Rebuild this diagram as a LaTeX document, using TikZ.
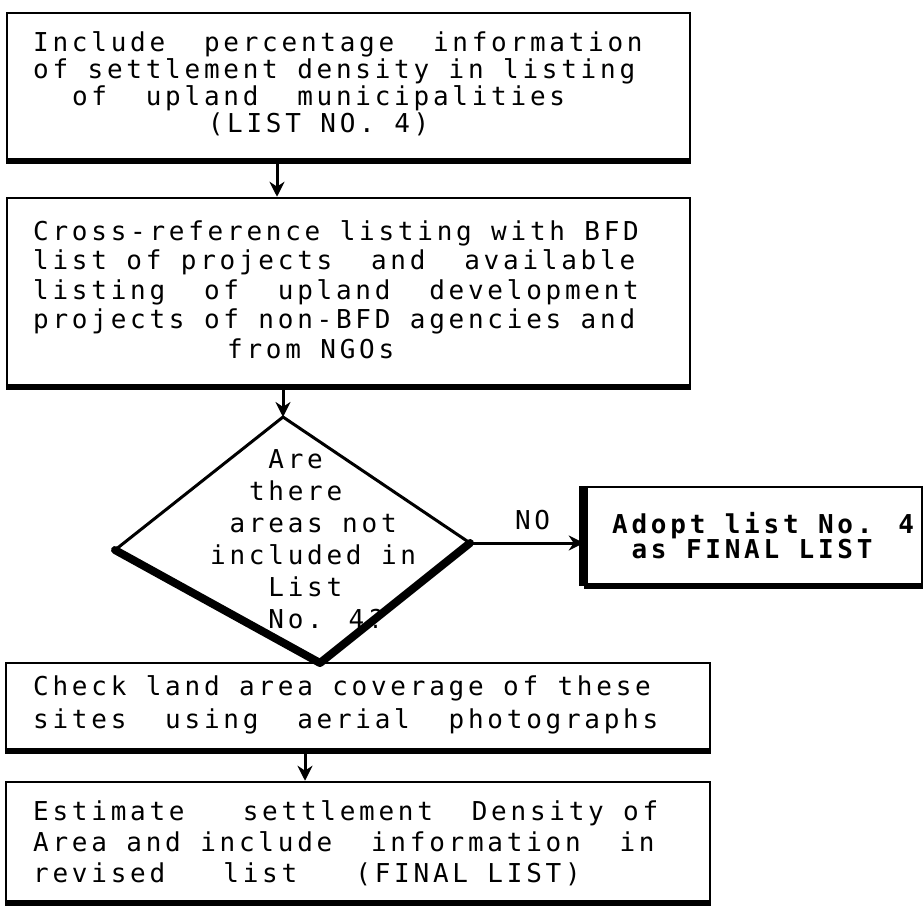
\documentclass[tikz,border=0pt]{standalone}
\usepackage{fontspec}
\usetikzlibrary{arrows.meta}
\newfontfamily\dtfont[LetterSpace=14.4,BoldFont={DejaVu Sans Mono Bold}]{DejaVu Sans Mono}
\newlength\chw
\setlength\chw{19.4pt}
\newcommand\dtsize[1]{\fontsize{26pt}{#1}\dtfont\fontdimen2\font=19.4pt\fontdimen3\font=0pt\fontdimen4\font=0pt\relax}
\newcommand\dtbsize[1]{\fontsize{26pt}{#1}\dtfont\bfseries\fontdimen2\font=19.4pt\fontdimen3\font=0pt\fontdimen4\font=0pt\relax}
\begin{document}
\begin{tikzpicture}[x=1pt,y=-1pt,
  box/.style={draw=black, line width=2.5pt, rectangle, inner sep=0pt},
  heavy/.style={draw=black, line width=6pt},
  txt/.style={inner sep=0pt, align=left, anchor=base west},
  flow/.style={draw=black, line width=3pt, -{Stealth[length=15pt,width=15pt]}},
  lbl/.style={inner sep=0pt, font=\dtsize{25pt}}]
\useasboundingbox (0,0) rectangle (923,907);
\fill[white] (0,0) rectangle (923,907);

% boxes
\node[box, minimum width=683pt, minimum height=147pt] (b1) at (348.5,86.5) {};
\node[box, minimum width=683pt, minimum height=188pt] (b2) at (348.5,292) {};
\node[box, minimum width=337pt, minimum height=98pt] (b3) at (753.5,536) {};
\node[box, minimum width=704pt, minimum height=87pt] (b4) at (358,706.5) {};
\node[box, minimum width=704pt, minimum height=120pt] (b5) at (358,842) {};

\draw[heavy] (b1.south west) -- (b1.south east);
\draw[heavy] (b2.south west) -- (b2.south east);
\draw[heavy] (b3.south west) -- (b3.south east);
\draw[draw=black, line width=9pt] (b3.north west) -- (b3.south west);
\draw[heavy] (b4.south west) -- (b4.south east);
\draw[heavy] (b5.south west) -- (b5.south east);

% decision
\coordinate (dT) at (283,417);
\coordinate (dL) at (115,550);
\coordinate (dB) at (320,663);
\coordinate (dR) at (470,543);
\draw[draw=black, line width=3pt, line join=miter] (dL) -- (dT) -- (dR);
\draw[draw=black, line width=8pt, line join=round, line cap=round] (dL) -- (dB) -- (dR);

% texts (anchored at the baseline of their last line)
\node[txt, font=\dtsize{27pt}] (t1) at (33,132) {Include~~percentage~~information\\
of settlement density in listing\\
\hspace*{2\chw}of~~upland~~municipalities\\
\hspace*{9\chw}(LIST NO. 4)};

\node[txt, font=\dtsize{29.5pt}] (t2) at (33,358) {Cross-reference listing with BFD\\
list of projects~~and~~available\\
listing~~of~~upland~~development\\
projects of non-BFD agencies and\\
\hspace*{10\chw}from NGOs};

\node[txt, font=\dtsize{32pt}] (td) at (210,628) {\hspace*{3\chw}Are\\
\hspace*{2\chw}there\\
\hspace*{1\chw}areas not\\
included in\\
\hspace*{3\chw}List\\
\hspace*{3\chw}No. 4?};

\node[txt, font=\dtbsize{25pt}] (t3) at (612,558) {Adopt list No. 4\\
\hspace*{1\chw}as FINAL LIST};

\node[txt, font=\dtsize{33pt}] (t4) at (33,728) {Check land area coverage of these\\
sites~~using~~aerial~~photographs};

\node[txt, font=\dtsize{31pt}] (t5) at (33,882) {Estimate~~~settlement~~Density of\\
Area and include~~information~~in\\
revised~~~list~~~(FINAL LIST)};

% connectors
\draw[flow] ([xshift=-71.5pt]b1.south) -- ([xshift=-71.5pt]b2.north);
\draw[flow] (b2.south -| dT) -- (dT);
\draw[flow] (dR) -- node[lbl, pos=0.55, above=12pt] {NO} (dR -| b3.west);
\draw[flow] ([xshift=-53pt]b4.south) -- ([xshift=-53pt]b5.north);
\end{tikzpicture}
\end{document}
